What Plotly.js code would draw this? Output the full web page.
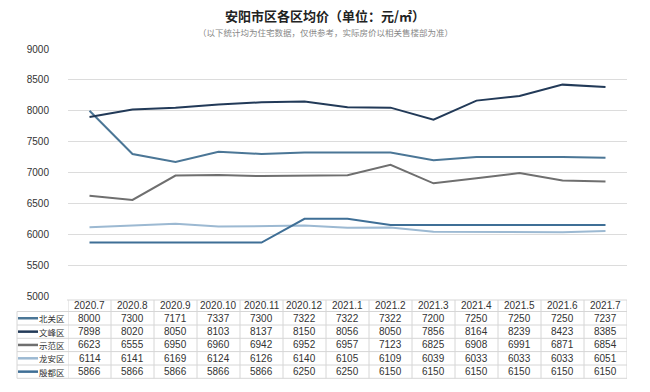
<!DOCTYPE html>
<html>
<head>
<meta charset="utf-8">
<script src="https://cdn.plot.ly/plotly-3.0.1.min.js"></script>
<style>html,body{margin:0;padding:0;background:#fff;}#chart{width:650px;height:392px;}</style>
</head>
<body>
<div id="chart"></div>
<script>
const months = ["2020.7","2020.8","2020.9","2020.10","2020.11","2020.12","2021.1","2021.2","2021.3","2021.4","2021.5","2021.6","2021.7"];
const districts = ["北关区","文峰区","示范区","龙安区","殷都区"];
const beiguan = [8000,7300,7171,7337,7300,7322,7322,7322,7200,7250,7250,7250,7237];
const wenfeng = [7898,8020,8050,8103,8137,8150,8056,8050,7856,8164,8239,8423,8385];
const shifan  = [6623,6555,6950,6960,6942,6952,6957,7123,6825,6908,6991,6871,6854];
const longan  = [6114,6141,6169,6124,6126,6140,6105,6109,6039,6033,6033,6033,6051];
const yindu   = [5866,5866,5866,5866,5866,6250,6250,6150,6150,6150,6150,6150,6150];
const seriesValues = [beiguan, wenfeng, shifan, longan, yindu];
const colors = ["#4b7696","#223a58","#6f6f6f","#9cb9d2","#3f6f96"];

const W = 650, H = 392;
const L = 68, R = 627, T = 49, B = 296;
const px2paperX = p => (p - L) / (R - L);
const px2paperY = p => (B - p) / (B - T);

const traces = seriesValues.map((v, i) => ({
  type: "scatter", mode: "lines", name: districts[i],
  x: months, y: v,
  line: {color: colors[i], width: 2},
  hoverinfo: "skip"
}));

const annotations = [];
const shapes = [];
const cellFont = {family: "Liberation Sans, Arial, sans-serif", size: 10, color: "#333"};
const headerY = 305.5;
const rowTops = [311.5, 325, 338.3, 351.6, 365, 378.3];
months.forEach((m, j) => {
  annotations.push({x: j, xref: "x", y: px2paperY(headerY), yref: "paper", text: m, showarrow: false, font: cellFont, xanchor: "center", yanchor: "middle"});
});
seriesValues.forEach((vals, i) => {
  const cy = (rowTops[i] + rowTops[i+1]) / 2;
  vals.forEach((v, j) => {
    annotations.push({x: j, xref: "x", y: px2paperY(cy), yref: "paper", text: String(v), showarrow: false, font: cellFont, xanchor: "center", yanchor: "middle"});
  });
  annotations.push({x: px2paperX(66), xref: "paper", y: px2paperY(cy), yref: "paper", text: districts[i], showarrow: false, font: {family: "Noto Sans CJK SC", size: 8.5, color: "#333"}, xanchor: "right", yanchor: "middle", borderpad: 0});
  shapes.push({type: "line", xref: "paper", yref: "paper", x0: px2paperX(18), x1: px2paperX(38), y0: px2paperY(cy), y1: px2paperY(cy), line: {color: colors[i], width: 2.5}});
});
const gridCol = "#d6d6d6";
shapes.push({type: "line", xref: "paper", yref: "paper", x0: px2paperX(67), x1: 1, y0: px2paperY(300), y1: px2paperY(300), line: {color: gridCol, width: 1}});
rowTops.forEach(t => {
  shapes.push({type: "line", xref: "paper", yref: "paper", x0: px2paperX(17), x1: 1, y0: px2paperY(t), y1: px2paperY(t), line: {color: gridCol, width: 1}});
});
shapes.push({type: "line", xref: "paper", yref: "paper", x0: px2paperX(17), x1: px2paperX(17), y0: px2paperY(rowTops[0]), y1: px2paperY(rowTops[5]), line: {color: gridCol, width: 1}});
for (let k = 0; k <= months.length; k++) {
  shapes.push({type: "line", xref: "x", yref: "paper", x0: k - 0.5, x1: k - 0.5, y0: px2paperY(300), y1: px2paperY(rowTops[5]), line: {color: gridCol, width: 1}});
}
annotations.push({x: px2paperX(325), xref: "paper", y: px2paperY(31.5), yref: "paper", xanchor: "center", yanchor: "middle", showarrow: false, text: "（以下统计均为住宅数据，仅供参考，实际房价以相关售楼部为准）", font: {family: "Noto Sans CJK SC", size: 8.5, color: "#888"}});

const layout = {
  width: W, height: H,
  paper_bgcolor: "#ffffff", plot_bgcolor: "#ffffff",
  margin: {l: L, r: W - R, t: T, b: H - B},
  title: {text: "安阳市区各区均价（单位：元/㎡）", x: 325 / W, xref: "container", y: 1 - 16 / H, yanchor: "middle", font: {family: "Noto Sans CJK SC", size: 13, color: "#222", weight: "bold"}},
  showlegend: false,
  xaxis: {type: "category", range: [-0.5, 12.5], showticklabels: false, showgrid: false, zeroline: false, showline: false, ticks: ""},
  yaxis: {range: [5000, 9000], dtick: 500, showgrid: true, gridcolor: "#dcdcdc", gridwidth: 1, zeroline: false, showline: false, ticks: "", ticklabelstandoff: 18, tickfont: {family: "Liberation Sans, Arial, sans-serif", size: 10, color: "#333"}},
  annotations: annotations,
  shapes: shapes
};

Plotly.newPlot("chart", traces, layout, {displayModeBar: false, staticPlot: true});
</script>
</body>
</html>
